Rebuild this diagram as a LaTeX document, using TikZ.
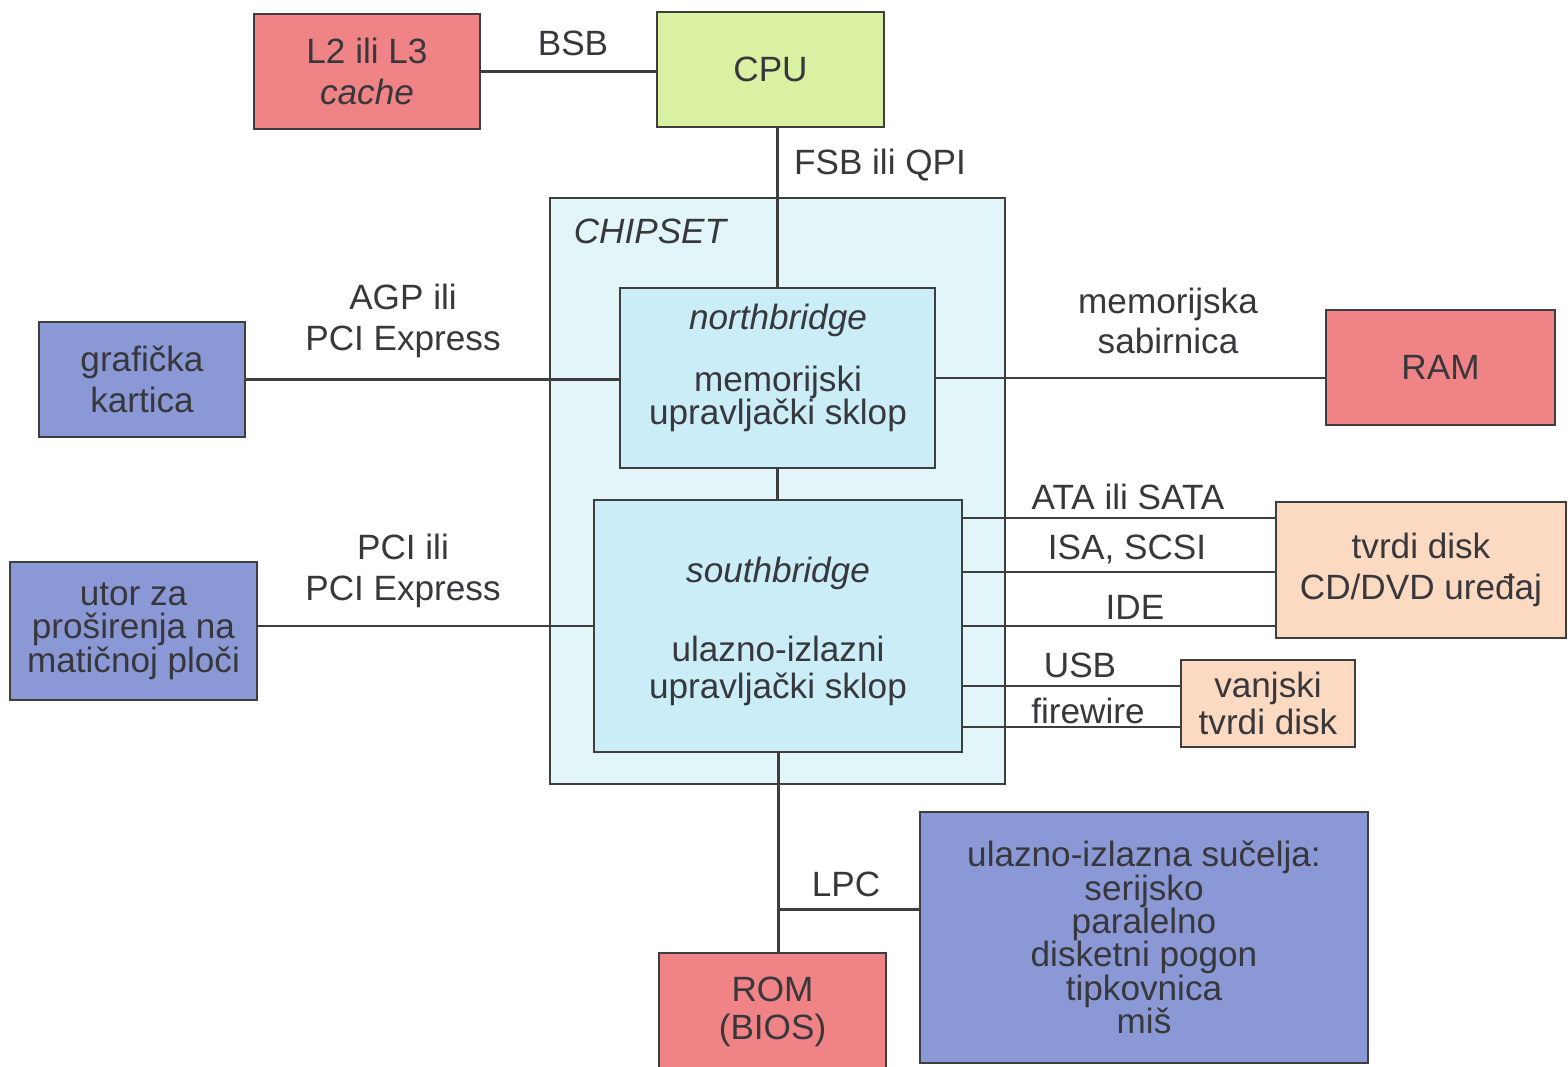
\documentclass[tikz,border=0pt]{standalone}
\usepackage{fontspec}
\setmainfont{Liberation Sans}
\usetikzlibrary{calc}

\definecolor{salmon}{RGB}{239,131,133}
\definecolor{cpugreen}{RGB}{218,240,162}
\definecolor{chipbg}{RGB}{226,246,250}
\definecolor{bridge}{RGB}{202,237,247}
\definecolor{slot}{RGB}{139,152,214}
\definecolor{peach}{RGB}{252,218,194}
\definecolor{linegray}{RGB}{62,62,62}
\definecolor{textgray}{RGB}{55,55,60}

\begin{document}
\begin{tikzpicture}[x=0.02cm, y=-0.02cm,
  box/.style={draw=linegray, line width=1.4pt, align=center, text=textgray,
    font=\fontsize{20}{23}\selectfont, inner sep=0pt},
  lbl/.style={align=center, text=textgray, font=\fontsize{20}{23}\selectfont, inner sep=0pt},
  tight/.style={font=\fontsize{20}{19}\selectfont},
  loose/.style={font=\fontsize{20}{21.5}\selectfont},
  bus/.style={draw=linegray, line width=1.7pt}]
  \clip (0,0) rectangle (1568,1067);

  \node [box, fill=chipbg, minimum width=9.1cm, minimum height=11.72cm] (chipset) at (777.5,491) {};
  \node [lbl, font=\fontsize{20}{23}\selectfont\itshape] (chiptitle) at (650,231) {CHIPSET};

  \node [box, fill=salmon, minimum width=4.52cm, minimum height=2.3cm] (cache) at (367,71.5) {L2 ili L3\\\textit{cache}};
  \node [box, fill=cpugreen, minimum width=4.54cm, minimum height=2.3cm] (cpu) at (770.5,69.5) {CPU};
  \node [box, fill=bridge, minimum width=6.3cm, minimum height=3.6cm] (north) at (777.5,378) {};
  \node [box, fill=bridge, minimum width=7.36cm, minimum height=5.04cm] (south) at (778,626) {};
  \node [box, fill=slot, minimum width=4.12cm, minimum height=2.3cm] (grafika) at (142,379.5) {grafička\\kartica};
  \node [box, fill=salmon, minimum width=4.58cm, minimum height=2.3cm] (ram) at (1440.5,367.5) {RAM};
  \node [box, fill=slot, tight, minimum width=4.94cm, minimum height=2.76cm] (utor) at (133.5,631) {utor za\\proširenja na\\matičnoj ploči};
  \node [box, fill=peach, minimum width=5.8cm, minimum height=2.72cm] (disk) at (1421,570) {tvrdi disk\\CD/DVD uređaj};
  \node [box, fill=peach, loose, minimum width=3.48cm, minimum height=1.74cm] (vanjski) at (1268,703.5) {vanjski\\tvrdi disk};
  \node [box, fill=salmon, loose, minimum width=4.54cm, minimum height=2.36cm] (rom) at (772.5,1012) {ROM\\(BIOS)};
  \node [box, fill=slot, tight, minimum width=8.96cm, minimum height=5.02cm] (io) at (1144,937.5)
    {ulazno-izlazna sučelja:\\serijsko\\paralelno\\disketni pogon\\tipkovnica\\miš};

  \node [lbl, font=\fontsize{20}{23}\selectfont\itshape] (northtitle) at (778,320) {northbridge};
  \node [lbl, tight] (northtext) at (778,399) {memorijski\\upravljački sklop};
  \node [lbl, font=\fontsize{20}{23}\selectfont\itshape] (southtitle) at (778,573) {southbridge};
  \node [lbl, loose] (southtext) at (778,671) {ulazno-izlazni\\upravljački sklop};

  \node [lbl] (bsb) at (573,43) {BSB};
  \node [lbl] (fsb) at (880,165) {FSB ili QPI};
  \node [lbl] (agp) at (403,321) {AGP ili\\PCI Express};
  \node [lbl] (membus) at (1168,321) {memorijska\\sabirnica};
  \node [lbl] (pci) at (403,571) {PCI ili\\PCI Express};
  \node [lbl] (ata) at (1128,497) {ATA ili SATA};
  \node [lbl] (isa) at (1127,549) {ISA, SCSI};
  \node [lbl] (ide) at (1135,607) {IDE};
  \node [lbl] (usb) at (1080,665) {USB};
  \node [lbl] (firewire) at (1088,711) {firewire};
  \node [lbl] (lpc) at (846,884) {LPC};

  \coordinate (lpcjoint) at (south.south |- 0,909);
  \coordinate (ataend) at ($(disk.west)+(0,-52)$);
  \coordinate (isaend) at ($(disk.west)+(0,2)$);
  \coordinate (ideend) at ($(disk.west)+(0,56)$);
  \coordinate (usbend) at ($(vanjski.west)+(0,-17.5)$);
  \coordinate (fireend) at ($(vanjski.west)+(0,23.5)$);

  \draw [bus] (cache.east) -- (cache.east -| cpu.west);
  \draw [bus] (north.north) -- (north.north |- cpu.south);
  \draw [bus] (north.south) -- (north.south |- south.north);
  \draw [bus] (grafika.east) -- (grafika.east -| north.west);
  \draw [bus] (north.east) -- (north.east -| ram.west);
  \draw [bus] (south.west) -- (south.west -| utor.east);
  \draw [bus] (ataend) -- (ataend -| south.east);
  \draw [bus] (isaend) -- (isaend -| south.east);
  \draw [bus] (ideend) -- (ideend -| south.east);
  \draw [bus] (usbend) -- (usbend -| south.east);
  \draw [bus] (fireend) -- (fireend -| south.east);
  \draw [bus] (south.south) -- (south.south |- rom.north);
  \draw [bus] (lpcjoint) -- (lpcjoint -| io.west);
\end{tikzpicture}
\end{document}
